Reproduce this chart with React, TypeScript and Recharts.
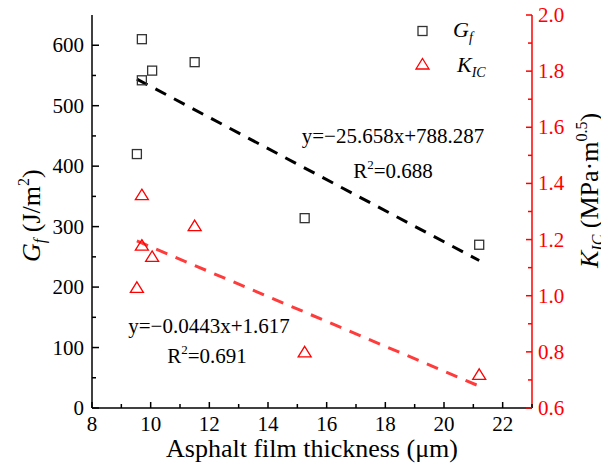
import React from "react";
import {
  ComposedChart,
  Customized,
  Legend,
  Line,
  Scatter,
  XAxis,
  YAxis,
} from "recharts";

// measured points (film thickness in µm)
const thicknessGf = [9.7, 9.7, 10.05, 11.5, 9.53, 15.25, 21.2];
const gfValues = [610, 542, 558, 572, 420, 314, 270];
const thicknessKic = [9.7, 9.7, 10.05, 11.5, 9.53, 15.25, 21.2];
const kicValues = [1.36, 1.18, 1.14, 1.25, 1.03, 0.8, 0.72];

// fitted lines, end points
const fitX = [9.53, 21.2];
const gfFitValues = [544, 244];
const kicFitValues = [1.195, 0.678];

const xTicks = [8, 9, 10, 11, 12, 13, 14, 15, 16, 17, 18, 19, 20, 21, 22, 23];
const gfTicks = [0, 50, 100, 150, 200, 250, 300, 350, 400, 450, 500, 550, 600];
const kicTicks = [0.6, 0.7, 0.8, 0.9, 1.0, 1.1, 1.2, 1.3, 1.4, 1.5, 1.6, 1.7, 1.8, 1.9, 2.0];

const gfEquation = "y=\u221225.658x+788.287";
const gfR2 = "=0.688";
const kicEquation = "y=\u22120.0443x+1.617";
const kicR2 = "=0.691";

const FONT = "Liberation Serif, DejaVu Serif, serif";
const RED = "#ff0000";
const FIT_RED = "#ff3c3c";

const gfData = thicknessGf.map((x, i) => ({ x, y: gfValues[i] }));
const kicData = thicknessKic.map((x, i) => ({ x, y: kicValues[i] }));
const gfFit = fitX.map((x, i) => ({ x, y: gfFitValues[i] }));
const kicFit = fitX.map((x, i) => ({ x, y: kicFitValues[i] }));

const txt = (size: number, extra: any = {}) => ({ fontFamily: FONT, fontSize: size, ...extra });

const Square = (props: any) => {
  const { cx, cy } = props;
  return (
    <rect x={cx - 4.5} y={cy - 4.5} width={9} height={9} fill="none" stroke="#333" strokeWidth={1.3} />
  );
};

const Triangle = (props: any) => {
  const { cx, cy } = props;
  return (
    <path
      d={`M${cx},${cy - 5.5}L${cx + 6.5},${cy + 5}L${cx - 6.5},${cy + 5}Z`}
      fill="none"
      stroke={RED}
      strokeWidth={1.3}
    />
  );
};

const LeftTick = (props: any) => {
  const { x, y, payload } = props;
  const v = payload.value;
  const major = v % 100 === 0;
  const ax = x + 8;
  return (
    <g>
      <line x1={ax} x2={ax + (major ? 7 : 4)} y1={y} y2={y} stroke="#000" strokeWidth={1.5} />
      {major && (
        <text x={x} y={y + 7} textAnchor="end" style={txt(21)} fill="#000">
          {v}
        </text>
      )}
    </g>
  );
};

const RightTick = (props: any) => {
  const { x, y, payload } = props;
  const v = payload.value;
  const major = Math.round(v * 10) % 2 === 0;
  const ax = x - 6;
  return (
    <g>
      <line x1={ax} x2={ax - (major ? 6 : 4)} y1={y} y2={y} stroke={RED} strokeWidth={1.5} />
      {major && (
        <text x={x} y={y + 7} textAnchor="start" style={txt(21)} fill={RED}>
          {v.toFixed(1)}
        </text>
      )}
    </g>
  );
};

const BottomTick = (props: any) => {
  const { x, y, payload } = props;
  const v = payload.value;
  const major = v % 2 === 0;
  return (
    <g>
      <line x1={x} x2={x} y1={y} y2={y - (major ? 6 : 4)} stroke="#000" strokeWidth={1.5} />
      {major && v <= 22 && (
        <text x={x} y={y + 23} textAnchor="middle" style={txt(21)} fill="#000">
          {v}
        </text>
      )}
    </g>
  );
};

const Annotations = () => (
  <g fill="#000">
    <text x={393} y={143} textAnchor="middle" style={txt(21)}>{gfEquation}</text>
    <text x={393} y={178} textAnchor="middle" style={txt(21)}>
      R<tspan dy={-9} style={txt(13)}>2</tspan>
      <tspan dy={9}>{gfR2}</tspan>
    </text>
    <text x={209} y={333} textAnchor="middle" style={txt(21)}>{kicEquation}</text>
    <text x={207} y={363} textAnchor="middle" style={txt(21)}>
      R<tspan dy={-9} style={txt(13)}>2</tspan>
      <tspan dy={9}>{kicR2}</tspan>
    </text>
    {/* axis titles */}
    <text x={312} y={457} textAnchor="middle" style={txt(26)}>
      Asphalt film thickness (μm)
    </text>
    <text x={40} y={262} textAnchor="start" style={txt(26)} transform="rotate(-90 40 262)">
      <tspan style={txt(26, { fontStyle: "italic" })}>G</tspan>
      <tspan style={txt(16, { fontStyle: "italic" })} dy={5}>f</tspan>
      <tspan dy={-5}> (J/m</tspan>
      <tspan style={txt(16)} dy={-11}>2</tspan>
      <tspan dy={11}>)</tspan>
    </text>
    <text x={598} y={268} textAnchor="start" style={txt(26)} transform="rotate(-90 598 268)">
      <tspan style={txt(26, { fontStyle: "italic" })}>K</tspan>
      <tspan style={txt(16, { fontStyle: "italic" })} dy={5}>IC</tspan>
      <tspan dy={-5}> (MPa·m</tspan>
      <tspan style={txt(16)} dy={-11}>0.5</tspan>
      <tspan dy={11}>)</tspan>
    </text>
  </g>
);

const LegendBox = () => (
  <svg width={110} height={76} style={{ display: "block", overflow: "visible" }}>
    <rect x={6} y={16.5} width={9} height={9} fill="none" stroke="#333" strokeWidth={1.3} />
    <text x={41} y={27} style={txt(22, { fontStyle: "italic" })} fill="#000">
      G<tspan style={txt(14, { fontStyle: "italic" })} dy={5}>f</tspan>
    </text>
    <path d="M10.5,48.5L17,59L4,59Z" fill="none" stroke={RED} strokeWidth={1.3} />
    <text x={45} y={62} style={txt(22, { fontStyle: "italic" })} fill="#000">
      K<tspan style={txt(14, { fontStyle: "italic" })} dy={5}>IC</tspan>
    </text>
  </svg>
);

export default function App() {
  return (
    <div style={{ position: "absolute", left: 0, top: 0, background: "#fff", fontFamily: FONT }}>
      <ComposedChart width={601} height={465} margin={{ top: 15, right: 0, bottom: 0, left: 0 }}>
        <XAxis
          dataKey="x"
          type="number"
          domain={[8, 23]}
          ticks={xTicks}
          interval={0}
          height={57}
          tickSize={0}
          tickMargin={0}
          tick={<BottomTick />}
          axisLine={{ stroke: "#000", strokeWidth: 1.5 }}
          tickLine={false}
          allowDataOverflow
        />
        <XAxis
          xAxisId="top"
          orientation="top"
          type="number"
          domain={[8, 23]}
          height={0}
          tick={false}
          tickLine={false}
          axisLine={{ stroke: "#000", strokeWidth: 1.5 }}
        />
        <YAxis
          yAxisId="left"
          dataKey="y"
          type="number"
          domain={[0, 650]}
          ticks={gfTicks}
          interval={0}
          width={92}
          tickSize={0}
          tickMargin={8}
          tick={<LeftTick />}
          tickLine={false}
          axisLine={{ stroke: "#000", strokeWidth: 1.5 }}
          allowDataOverflow
        />
        <YAxis
          yAxisId="right"
          orientation="right"
          dataKey="y"
          type="number"
          domain={[0.6, 2.0]}
          ticks={kicTicks}
          interval={0}
          width={69}
          tickSize={0}
          tickMargin={6}
          tick={<RightTick />}
          tickLine={false}
          axisLine={{ stroke: RED, strokeWidth: 1.5 }}
          allowDataOverflow
        />
        <Line
          yAxisId="left"
          data={gfFit}
          dataKey="y"
          stroke="#000"
          strokeWidth={3}
          strokeDasharray="12 9"
          dot={false}
          activeDot={false}
          isAnimationActive={false}
        />
        <Line
          yAxisId="right"
          data={kicFit}
          dataKey="y"
          stroke={FIT_RED}
          strokeWidth={3}
          strokeDasharray="12 9"
          dot={false}
          activeDot={false}
          isAnimationActive={false}
        />
        <Scatter yAxisId="left" name="Gf" data={gfData} shape={<Square />} isAnimationActive={false} />
        <Scatter yAxisId="right" name="KIC" data={kicData} shape={<Triangle />} isAnimationActive={false} />
        <Customized component={Annotations} />
        <Legend
          layout="vertical"
          align="center"
          verticalAlign="middle"
          content={() => <LegendBox />}
          wrapperStyle={{ top: 10, left: 412, width: 110 }}
        />
      </ComposedChart>
    </div>
  );
}
